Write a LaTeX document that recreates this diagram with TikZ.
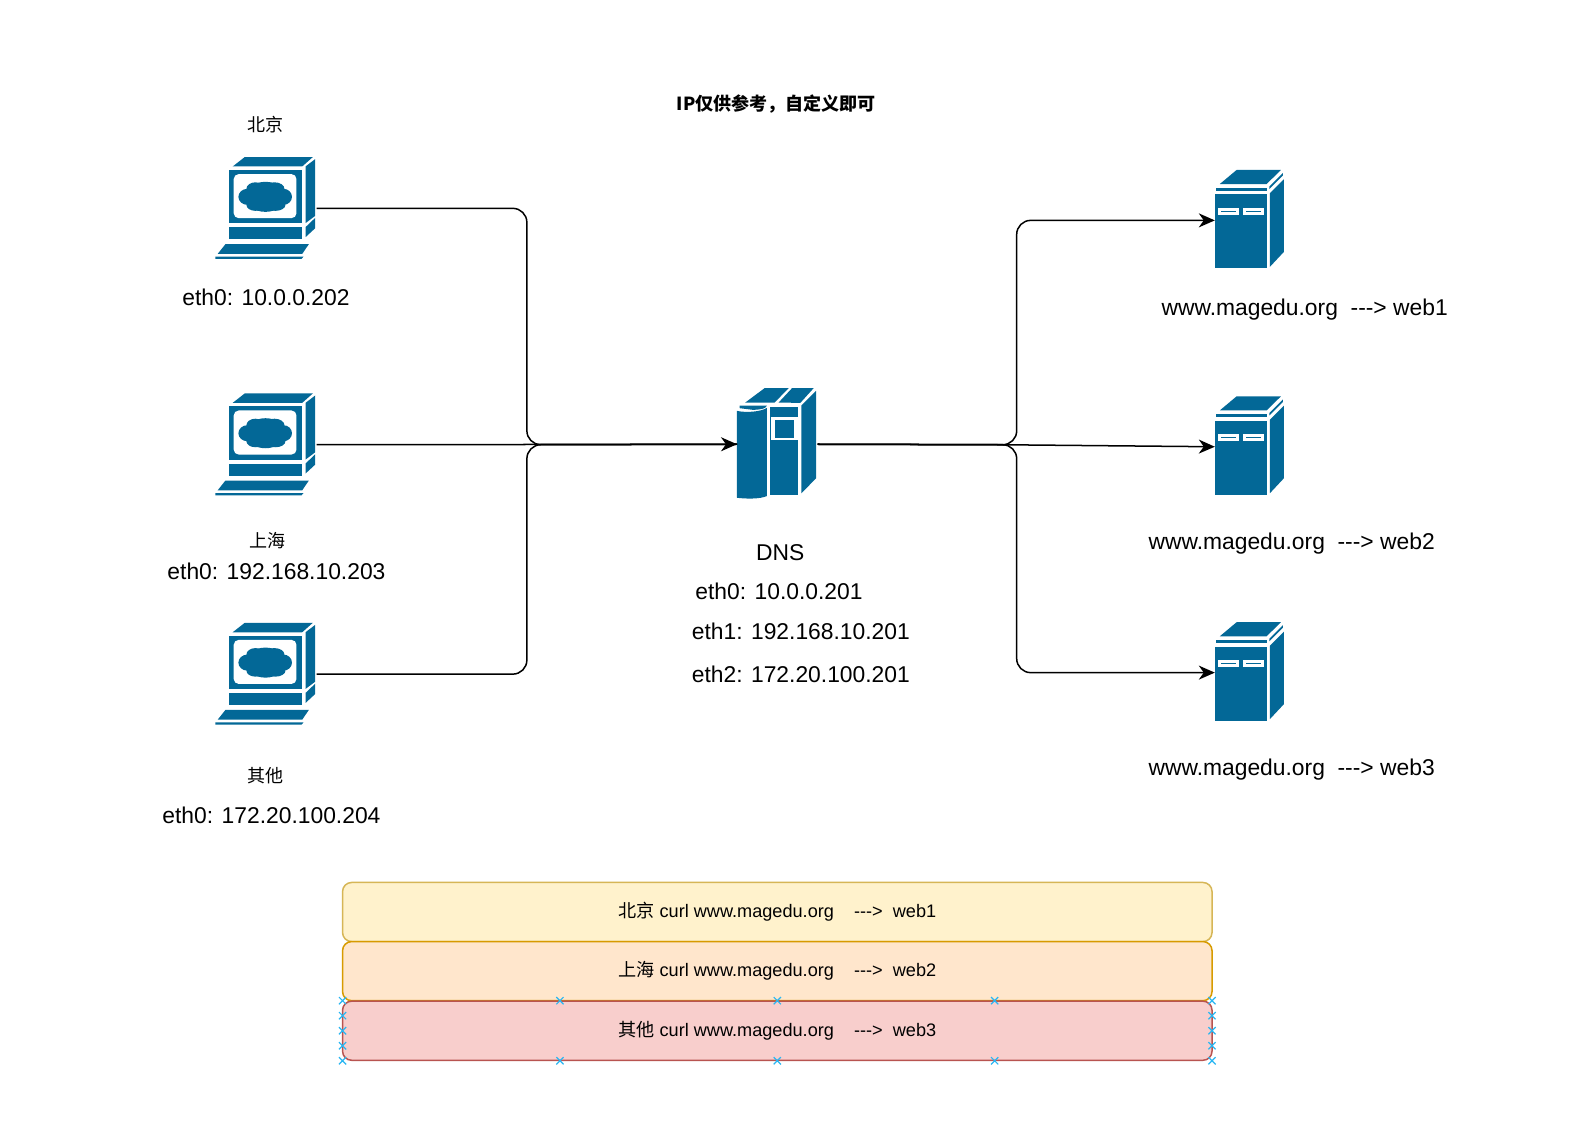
\documentclass[tikz,border=0pt]{standalone}
\usepackage{fontspec}
\setmainfont{Liberation Sans}
\newfontfamily\cjk{Noto Sans CJK SC}
\usetikzlibrary{arrows.meta,shapes.misc}

\definecolor{ciscoblue}{HTML}{036897}
\definecolor{markblue}{HTML}{29B6F2}

\tikzset{
  pcicon/.pic={
    \begin{scope}[shift={(-265.5,-208.5)},fill=ciscoblue]
      \fill (232.3,166.7) -- (244.3,157.3) -- (312.3,157.3) -- (301.7,166.7) -- cycle;
      \fill (229,170) rectangle (301.7,223.3);
      \fill[white,rounded corners=5] (233.3,174.3) rectangle (296,218.3);
      \fill (265,197) ellipse (20 and 15);
      \fill (247,197) ellipse (9 and 8);
      \fill (283,197) ellipse (8.5 and 8);
      \fill (255,189) ellipse (9 and 6.5);
      \fill (274,189) ellipse (10 and 6.5);
      \fill (255,205) ellipse (9 and 6);
      \fill (275,205) ellipse (10 and 6);
      \fill (305,166.7) -- (314.7,159.3) -- (314.7,216) -- (305,223.3) -- cycle;
      \fill (228.3,227.3) rectangle (301.7,239.3);
      \fill (305,227.3) -- (314.7,218) -- (314.7,228.3) -- (305,237.3) -- cycle;
      \fill (225,244.3) -- (308.3,244.3) -- (301.7,254) -- (217.3,254) -- cycle;
      \fill (215,256.7) -- (303,256.7) -- (301,259) -- (215,259) -- cycle;
    \end{scope}
  },
  dnsicon/.pic={
    \begin{scope}[shift={(-777,-444.3)},fill=ciscoblue]
      \fill (745,402.7) -- (764.3,388.3) -- (788.3,388.3) -- (774.3,402.7) -- cycle;
      \fill (778.3,402.7) -- (791.7,388.3) -- (813.3,388.3) -- (800,403) -- cycle;
      \fill (739.3,405.7) -- (766.7,405.7) .. controls (765,408.5) and (763,409.5) .. (753,410) -- (739.3,408.3) -- cycle;
      \fill (736.7,411) .. controls (746,413) and (760,412) .. (766.7,408) -- (766.7,496) .. controls (760,499) and (746,499) .. (736.7,497.7) -- cycle;
      \fill (770,407.3) rectangle (797.3,495);
      \fill[white] (771,416.7) rectangle (797.3,440);
      \fill (774.3,420) rectangle (794,437.7);
      \fill (801,405.7) -- (815.7,391) -- (815.7,478.3) -- (801,493.3) -- cycle;
    \end{scope}
  },
  webicon/.pic={
    \begin{scope}[shift={(-1249.2,-220.3)},fill=ciscoblue]
      \fill (1219,184) -- (1235.7,170) -- (1280,170) -- (1265.7,184) -- cycle;
      \fill (1268.5,186.5) -- (1282,173) -- (1282,175.5) -- (1268.5,189) -- cycle;
      \fill (1215,187.7) rectangle (1265.7,191);
      \fill (1214,194.3) rectangle (1265.7,268.3);
      \fill[white] (1216.7,207.7) rectangle (1238.3,215);
      \fill (1220,210.7) rectangle (1235,212);
      \fill[white] (1241.7,207.7) rectangle (1263.3,215);
      \fill (1245,210.7) rectangle (1260,212);
      \fill (1269,193.3) -- (1283,179.3) -- (1283,251.7) -- (1269,266.7) -- cycle;
    \end{scope}
  },
  iconbox/.style={inner sep=0pt,minimum width=#1},
  label/.style={font=\fontsize{22.8}{27}\selectfont,inner sep=0pt},
  small/.style={font=\fontsize{18}{22}\selectfont,inner sep=0pt},
  wire/.style={line width=1.5pt,rounded corners=14},
  arrow/.style={wire,-{Stealth[length=16pt,width=14pt,inset=5pt]}},
  rowbox/.style={draw,line width=1.5pt,rounded corners=9,minimum width=868pt,minimum height=59pt,inner sep=0pt,font=\fontsize{18.1}{22}\selectfont}
}

\begin{document}
\begin{tikzpicture}[x=1pt,y=-1pt]
  \useasboundingbox (0,0) rectangle (1567.4,1136.1);

  \begin{scope}[every node/.style={iconbox=101pt,minimum height=102pt}]
    \node (bj) at (265.5,208) {};
    \node (sh) at (265.5,444) {};
    \node (qt) at (265.5,673) {};
  \end{scope}
  \node[iconbox=80pt,minimum height=111pt] (dns) at (776,443.5) {};
  \begin{scope}[every node/.style={iconbox=70pt,minimum height=100pt}]
    \node (web1) at (1248,220) {};
    \node (web2) at (1248,446) {};
    \node (web3) at (1248,671.5) {};
  \end{scope}

  \pic at (bj) {pcicon};
  \pic at (sh) {pcicon};
  \pic at (qt) {pcicon};
  \pic at (dns) {dnsicon};
  \pic at (web1) {webicon};
  \pic at (web2) {webicon};
  \pic at (web3) {webicon};

  \coordinate (jl) at (526,444);
  \coordinate (jr) at (1015,444);
  \coordinate (jm) at (1000,444);

  \draw[wire] (bj.east) -| (jl) -- (dns.west);
  \draw[wire] (qt.east) -| (jl) -- (dns.west);
  \draw[arrow] (sh.east) -- (dns.west);
  \draw[arrow] (dns.east) -- (jr) |- (web1.west);
  \draw[arrow] (dns.east) -- (jr) |- (web3.west);
  \draw[arrow] (dns.east) -- (jm) -- (web2.west);

  \node[small,font=\fontsize{18}{22}\selectfont\cjk\bfseries] (title) at (775,103.5) {IP仅供参考，自定义即可};

  \begin{scope}[every node/.style={small}]
    \node (bjname) at (265,124) {\cjk 北京};
    \node (shname) at (267,539.5) {\cjk 上海};
    \node (qtname) at (265,774.5) {\cjk 其他};
  \end{scope}

  \begin{scope}[every node/.style={label}]
    \node (bjip) at (265.5,297) {eth0: 10.0.0.202};
    \node (ship) at (276,570) {eth0: 192.168.10.203};
    \node (qtip) at (271,814) {eth0: 172.20.100.204};
    \node (dnsname) at (779,551.5) {DNS};
    \node (dnsip0) at (777.7,590.5) {eth0: 10.0.0.201};
    \node (dnsip1) at (799.5,630.5) {eth1: 192.168.10.201};
    \node (dnsip2) at (799.5,673.5) {eth2: 172.20.100.201};
    \node (site1) at (1302.5,309) {www.magedu.org~~-{}-{}-> web1};
    \node (site2) at (1289.5,543) {www.magedu.org~~-{}-{}-> web2};
    \node (site3) at (1289.5,768) {www.magedu.org~~-{}-{}-> web3};
  \end{scope}

  \node[rowbox,fill={rgb,255:red,255;green,242;blue,204},draw={rgb,255:red,214;green,182;blue,86}] (row1) at (776,910.5) {{\cjk 北京} curl www.magedu.org~~~~-{}-{}->~~web1};
  \node[rowbox,fill={rgb,255:red,255;green,230;blue,204},draw={rgb,255:red,215;green,155;blue,0}] (row2) at (776,969.5) {{\cjk 上海} curl www.magedu.org~~~~-{}-{}->~~web2};
  \node[rowbox,fill={rgb,255:red,248;green,206;blue,204},draw={rgb,255:red,184;green,84;blue,80}] (row3) at (776,1029) {{\cjk 其他} curl www.magedu.org~~~~-{}-{}->~~web3};

  \begin{scope}[every node/.style={cross out,draw=markblue,line width=1.2pt,inner sep=0pt,minimum size=6pt}]
    \foreach \i in {342,559,776,993,1210} {
      \node (top\i) at (\i,999) {};
      \node (bot\i) at (\i,1059) {};
    }
    \foreach \j in {1014,1029,1044} {
      \node (left\j) at (342,\j) {};
      \node (right\j) at (1210,\j) {};
    }
  \end{scope}

\end{tikzpicture}
\end{document}
